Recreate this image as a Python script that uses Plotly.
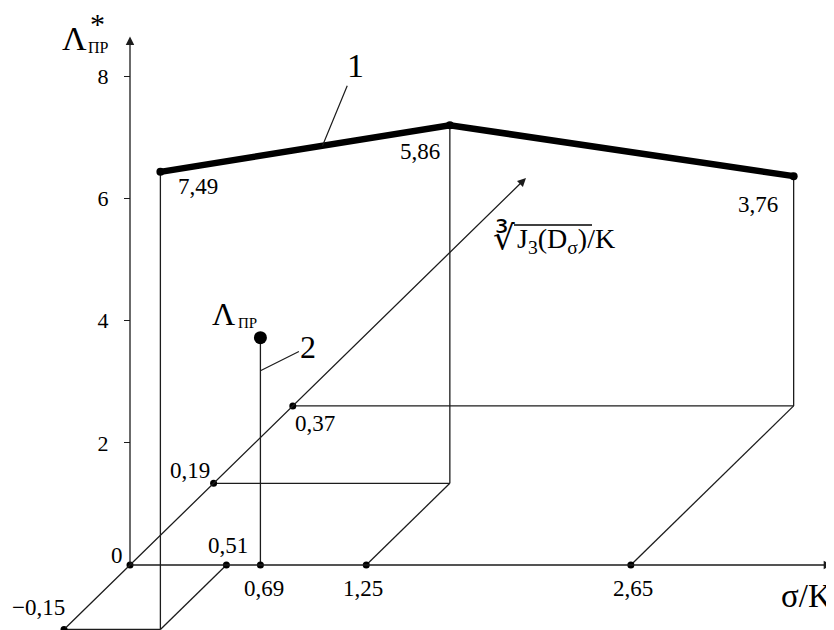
import plotly.graph_objects as go

# ---------------- data ----------------
sigma_ticks = [0.51, 0.69, 1.25, 2.65]
sigma_tick_labels = ["0,51", "0,69", "1,25", "2,65"]
j_ticks = [-0.15, 0.19, 0.37]
j_tick_labels = ["\u22120,15", "0,19", "0,37"]
curve_sigma = [0.51, 1.25, 2.65]
curve_j = [-0.15, 0.19, 0.37]
curve_lambda = [7.49, 5.86, 3.76]
curve_labels = ["7,49", "5,86", "3,76"]
point_sigma = 0.69
point_j = 0.0
point_lambda = 3.72
y_tickvals = [2, 4, 6, 8]
y_ticktext = ["2", "4", "6", "8"]

# ---------------- oblique projection ----------------
PAGE = 8                      # default body margin of the html page
W, H = 834 - PAGE, 630 - PAGE
PX_SIGMA = 189.0              # px per sigma unit
PX_LAMBDA = 61.1              # px per Lambda unit
J_DX, J_DY = 440.0, 430.0     # px per J unit along the oblique axis
KX = J_DX / PX_SIGMA
KY = J_DY / PX_LAMBDA
ORIGIN_PX, ORIGIN_PY = 130.0 - PAGE, 565.0 - PAGE
X_RANGE = [-ORIGIN_PX / PX_SIGMA, (W - ORIGIN_PX) / PX_SIGMA]
Y_RANGE = [-(H - ORIGIN_PY) / PX_LAMBDA, ORIGIN_PY / PX_LAMBDA]


def proj(s, j, l):
    return s + KX * j, l + KY * j


def paper(sx, sy):
    """screen pixel -> paper fraction (for text decoration only)"""
    return (sx - PAGE) / W, 1 - (sy - PAGE) / H


LINE = "#1c1c1c"
FONT = "Liberation Serif"

fig = go.Figure()

# thin construction lines
xs, ys = [], []


def seg(a, b):
    pa, pb = proj(*a), proj(*b)
    xs.extend([pa[0], pb[0], None])
    ys.extend([pa[1], pb[1], None])


for s, j, l in zip(curve_sigma, curve_j, curve_lambda):
    seg((0, j, 0), (s, j, 0))       # parallel to sigma axis
    seg((s, 0, 0), (s, j, 0))       # parallel to oblique axis
    seg((s, j, 0), (s, j, l))       # vertical
seg((point_sigma, point_j, 0), (point_sigma, point_j, point_lambda))

fig.add_trace(go.Scatter(x=xs, y=ys, mode="lines",
                         line=dict(color=LINE, width=1.3),
                         hoverinfo="skip", showlegend=False))

# thick curve 1
cx, cy = zip(*[proj(s, j, l) for s, j, l in zip(curve_sigma, curve_j, curve_lambda)])
fig.add_trace(go.Scatter(x=list(cx), y=list(cy), mode="lines+markers",
                         line=dict(color="black", width=6.5),
                         marker=dict(color="black", size=8),
                         hoverinfo="skip", showlegend=False))

# small dots on axes
dx_, dy_ = [], []
for p in [(0, 0, 0)] + [(s, 0, 0) for s in sigma_ticks] + [(0, j, 0) for j in j_ticks]:
    px, py = proj(*p)
    dx_.append(px)
    dy_.append(py)
fig.add_trace(go.Scatter(x=dx_, y=dy_, mode="markers",
                         marker=dict(color="black", size=7),
                         hoverinfo="skip", showlegend=False, cliponaxis=False))

# big dot Lambda_PR
bx, by = proj(point_sigma, point_j, point_lambda)
fig.add_trace(go.Scatter(x=[bx], y=[by], mode="markers",
                         marker=dict(color="black", size=13),
                         hoverinfo="skip", showlegend=False))

ann = []
Y_TIP = (0, 0, 8.65)
X_TIP = (3.715, 0, 0)
J_TIP = (0, 0.9, 0)


def arrow(tail, head):
    t, h = proj(*tail), proj(*head)
    ann.append(dict(x=h[0], y=h[1], ax=t[0], ay=t[1], xref="x", yref="y",
                    axref="x", ayref="y", text="", showarrow=True,
                    arrowhead=2, arrowsize=1.3, arrowwidth=1.3,
                    arrowcolor=LINE, standoff=0, startstandoff=0))


arrow((0, 0, 0), Y_TIP)            # Lambda* axis
arrow((0, 0, 0), X_TIP)            # sigma/K axis
arrow((0, -0.15, 0), J_TIP)        # oblique axis


def label(p, text, xs_, ys_, size=23, xanchor="center"):
    x, y = proj(*p)
    ann.append(dict(x=x, y=y, xref="x", yref="y", text=text, showarrow=False,
                    xanchor=xanchor, xshift=xs_, yshift=ys_,
                    font=dict(family=FONT, size=size, color="black")))


def ptext(sx, sy, text, size, xanchor="center"):
    px, py = paper(sx, sy)
    ann.append(dict(x=px, y=py, xref="paper", yref="paper", text=text,
                    showarrow=False, xanchor=xanchor, yanchor="middle",
                    font=dict(family=FONT, size=size, color="black")))


# value labels along curve
label((curve_sigma[0], curve_j[0], curve_lambda[0]), curve_labels[0], 38, -15)
label((curve_sigma[1], curve_j[1], curve_lambda[1]), curve_labels[1], -30, -26)
label((curve_sigma[2], curve_j[2], curve_lambda[2]), curve_labels[2], -36, -28)

# sigma axis labels
label((sigma_ticks[0], 0, 0), sigma_tick_labels[0], 2, 20)
label((sigma_ticks[1], 0, 0), sigma_tick_labels[1], 4, -23)
label((sigma_ticks[2], 0, 0), sigma_tick_labels[2], -3, -23)
label((sigma_ticks[3], 0, 0), sigma_tick_labels[3], 2, -23)
# oblique labels
label((0, j_ticks[0], 0), j_tick_labels[0], -26, 22)
label((0, j_ticks[1], 0), j_tick_labels[1], -24, 13)
label((0, j_ticks[2], 0), j_tick_labels[2], 22, -18)
# origin
label((0, 0, 0), "0", -13, 10)

# Lambda_PR point label
label((point_sigma, point_j, point_lambda), "\u039b", -37, 24, size=32)
label((point_sigma, point_j, point_lambda), "\u041f\u0420", -13, 15, size=15)

# axis titles
label(Y_TIP, "\u039b", -56, -2, size=34)
label(Y_TIP, "\u041f\u0420", -32, -11, size=16)
label(Y_TIP, "*", -33, 13, size=30)
label(X_TIP, "\u03c3/K", 2, -31, size=33, xanchor="right")

# oblique-axis title (cube root of J3(D_sigma) / K)
ptext(515, 240, "J<sub>3</sub>(D<sub>\u03c3</sub>)/K", 28, xanchor="left")
ptext(517, 238, "\u221b", 34, xanchor="right")
ox0, oy0 = paper(514, 225)
ox1, _ = paper(592, 225)
fig.add_shape(type="line", xref="paper", yref="paper", x0=ox0, x1=ox1, y0=oy0, y1=oy0,
              line=dict(color="black", width=1.5))

# leader labels 1 and 2
t = 0.56
ls = curve_sigma[0] + t * (curve_sigma[1] - curve_sigma[0])
lj = curve_j[0] + t * (curve_j[1] - curve_j[0])
ll = curve_lambda[0] + t * (curve_lambda[1] - curve_lambda[0])
p1 = proj(ls, lj, ll)
ann.append(dict(x=p1[0], y=p1[1], xref="x", yref="y", text="1", showarrow=True,
                arrowhead=0, arrowwidth=1.2, arrowcolor=LINE, ax=33, ay=-80,
                font=dict(family=FONT, size=34, color="black")))
p2 = proj(point_sigma, point_j, 3.18)
ann.append(dict(x=p2[0], y=p2[1], xref="x", yref="y", text="2", showarrow=True,
                arrowhead=0, arrowwidth=1.2, arrowcolor=LINE, ax=48, ay=-24,
                font=dict(family=FONT, size=32, color="black")))

fig.update_layout(
    width=W, height=H,
    margin=dict(l=0, r=0, t=0, b=0),
    paper_bgcolor="white", plot_bgcolor="white",
    showlegend=False,
    annotations=ann,
    xaxis=dict(range=X_RANGE, visible=False, fixedrange=True),
    yaxis=dict(range=Y_RANGE, anchor="free",
               position=(0 - X_RANGE[0]) / (X_RANGE[1] - X_RANGE[0]),
               showline=False, showgrid=False, zeroline=False,
               ticks="outside", ticklen=6, tickwidth=1.3, tickcolor=LINE,
               tickvals=y_tickvals, ticktext=y_ticktext,
               ticklabelstandoff=11, automargin=False,
               tickfont=dict(family=FONT, size=22, color="black"),
               fixedrange=True),
)

fig.write_html("out.html")
